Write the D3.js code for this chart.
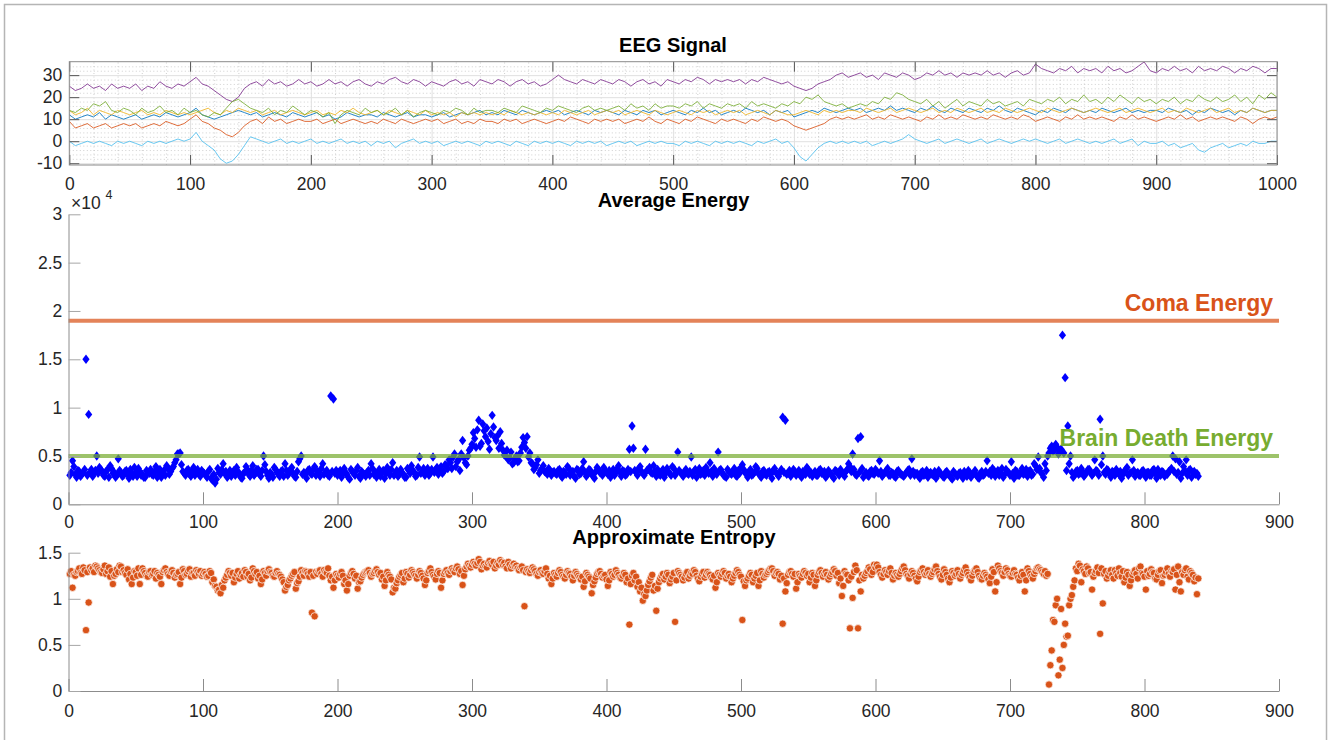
<!DOCTYPE html>
<html><head><meta charset="utf-8">
<script src="https://cdn.jsdelivr.net/npm/d3@7"></script>
<style>
body{margin:0;background:#fff;}
svg{display:block;font-family:"Liberation Sans",Arial,Helvetica,sans-serif;}
</style></head><body>
<svg id="c" width="1331" height="740"></svg>
<script>
// ---------------- DATA ----------------
const eegStep = 5; // sample spacing of the EEG traces below (x = i*5)
const eegBlue = [
12,10,11,12,11,13,10,12,11,10, 11,12,10,11,12,11,13,12,11,12,
13,15,12,11,10,11,12,13,14,13, 12,13,11,12,13,12,11,13,12,11,
12,13,11,12,10,11,13,12,11,12, 12,11,13,12,11,12,13,11,12,12,
11,12,13,11,12,13,12,13,14,12, 13,12,14,13,12,14,13,12,13,14,
13,14,12,13,14,13,12,14,13,14, 13,12,14,13,12,14,13,14,12,13,
14,13,12,14,13,15,13,14,12,13, 14,13,15,14,13,14,12,14,13,14,
11,12,13,14,13,15,14,13,14,15, 14,15,13,14,15,14,16,14,15,14,
13,15,14,16,14,13,15,14,13,15, 14,13,15,14,16,14,13,15,14,13,
12,14,13,15,14,13,15,14,13,14, 13,15,14,13,14,15,13,14,13,14,
14,13,15,14,13,14,12,14,13,15, 14,13,14,12,14,13,15,14,13,14, 14];
const eegOrange = [
9,6,7,8,6,7,8,6,7,8, 7,8,6,7,8,7,9,8,7,8,
10,12,9,8,6,5,3,2,4,7, 9,10,8,11,9,10,8,9,10,9,
9,10,8,9,10,8,9,10,9,8, 9,8,10,9,8,10,9,8,9,10,
9,10,8,9,10,8,9,8,10,9, 9,8,10,9,10,8,9,10,9,8,
9,10,9,11,10,9,8,10,9,10, 9,10,8,9,10,9,11,9,8,10,
9,8,10,9,11,10,9,8,10,9, 10,9,8,10,9,11,10,9,10,9,
7,6,5,6,7,8,10,11,10,11, 10,11,12,10,11,10,12,11,10,11,
10,9,11,10,12,10,11,10,12,11, 10,11,10,12,11,10,11,10,12,11,
9,10,11,10,9,11,10,12,10,11, 10,11,10,9,11,10,12,10,11,10,
9,10,11,10,12,10,11,9,10,11, 10,11,10,9,11,10,8,10,11,10, 11];
const eegYellow = [
14,12,13,15,12,14,13,12,14,13, 12,13,14,12,13,12,14,13,12,13,
12,13,14,15,13,12,14,13,15,14, 13,14,12,13,14,12,13,14,13,12,
13,14,12,13,12,14,13,15,13,12, 13,14,12,14,13,12,14,13,12,14,
12,13,12,13,11,13,12,13,12,13, 12,13,12,14,13,12,13,12,13,12,
13,12,14,13,12,13,14,12,13,14, 13,14,12,13,14,13,12,14,13,12,
13,14,13,12,14,13,14,12,13,14, 13,14,12,13,14,13,12,14,13,12,
12,13,14,13,12,14,13,14,13,14, 14,13,15,14,13,14,15,13,14,15,
14,13,14,15,13,14,13,15,14,13, 14,15,13,14,13,15,14,13,14,15,
14,13,15,14,13,14,15,14,13,14, 15,14,13,14,15,13,14,15,14,13,
14,15,13,14,13,15,14,13,14,15, 13,14,15,13,14,13,15,14,13,14, 14];
const eegPurple = [
25,23,24,26,24,25,23,26,24,25, 24,26,23,25,24,27,25,24,26,25,
27,29,26,25,23,21,19,18,20,24, 26,27,25,28,26,27,25,26,28,26,
27,25,26,28,26,27,25,27,28,26, 25,27,26,28,29,27,26,28,27,25,
27,26,25,27,28,26,27,25,28,27, 26,28,27,25,27,28,26,27,25,26,
28,30,28,27,26,28,27,26,28,27, 26,28,27,25,27,28,26,27,25,28,
27,26,28,27,29,28,26,28,27,28, 27,28,26,28,27,29,28,27,26,27,
25,24,23,24,26,27,28,30,31,29, 30,31,29,30,28,31,30,29,31,30,
28,29,31,30,32,30,31,29,31,30, 31,30,32,30,31,29,31,32,30,31,
35,33,32,31,33,32,34,31,33,32, 33,31,34,32,33,31,32,34,36,32,
31,33,32,34,32,33,31,34,32,33, 32,34,33,31,33,32,34,33,31,33, 33];
const eegGreen = [
14,13,15,14,17,16,18,14,13,15, 14,12,15,13,14,16,13,14,12,15,
13,14,12,11,13,12,15,18,19,17, 15,14,13,15,12,14,13,16,14,12,
14,13,11,13,8,12,14,13,12,15, 13,14,12,13,15,12,14,11,13,14,
13,12,14,13,15,14,12,15,13,14, 14,13,15,14,13,16,15,14,13,15,
14,16,15,14,13,15,16,14,15,14, 15,16,14,17,15,16,14,17,15,16,
16,15,17,16,18,15,17,16,15,17, 16,17,15,18,16,17,16,15,17,16,
18,17,20,19,21,18,17,16,17,15, 16,17,16,18,17,20,19,22,21,19,
18,17,19,16,18,15,17,19,16,18, 17,16,19,17,18,16,17,18,16,19,
18,17,19,18,20,17,19,18,21,18, 19,17,20,18,21,19,17,20,18,19,
17,19,18,20,17,19,18,21,19,18, 20,18,19,21,18,20,17,21,19,22, 20];
const eegCyan = [
0,-2,-1,0,-1,0,-1,-2,0,-1, 0,-1,-2,0,-1,0,-1,0,1,0,
1,4,0,-2,-4,-8,-10,-9,-6,-2, 2,1,0,-1,0,1,-1,0,-1,0,
1,-1,0,-1,0,1,-1,0,-1,0, -2,0,-1,0,-3,-1,0,1,-1,0,
-1,0,-2,-1,0,-1,0,-1,-2,0, -1,0,-1,-2,0,-1,-2,0,-1,0,
-1,0,-1,-2,0,-1,0,-1,0,-2, -1,0,-1,0,-2,-1,0,-1,0,-1,
-1,-2,0,-1,0,-1,-2,0,-1,0, -1,0,-1,-2,0,-1,0,1,-1,0,
-3,-7,-9,-6,-3,-1,0,-1,0,-1, 0,-1,0,-2,-1,0,-1,0,1,3,
1,0,-1,0,1,-1,0,1,0,-1, 0,1,-1,0,1,0,-1,0,1,0,
1,0,-1,0,1,-1,0,1,0,-1, 0,-1,0,1,-1,0,1,-2,0,-1,
-1,0,-2,-1,-3,-2,-1,-4,-5,-3, -2,-1,-3,-2,-1,-2,0,-1,-1,0, 0];
const eegColors = ["#0072BD","#D95319","#EDB120","#7E2F8E","#77AC30","#4DBEEE"];

// Average energy per window; energyOdd at x = 1,3,...,839, energyEven at x = 2,4,...,840
const energyOdd = [
3000,4500,3100,3500,2900,3300,15000,9300,3600,3200,
5000,3800,3400,2900,3600,4000,3200,2800,4700,3300,
3000,3500,2700,3200,3800,2900,3400,3100,2800,3300,
3600,3000,3900,3300,2800,3500,4000,3100,3700,4300,
5200,5300,3400,3000,3600,2900,3800,3300,3100,3500,
3200,2800,3600,2500,2200,3700,3100,4200,3400,3000,
2900,3500,3800,3100,2700,3300,3600,2900,4000,3200,
3600,2900,5000,3400,2700,3100,3800,3300,2900,3500,
4200,3000,3600,3200,2800,4400,5000,3300,2700,3600,
3100,3900,3400,2900,4200,3300,3000,11200,10900,3500,
3300,2800,3700,3100,2600,3400,3000,3800,2700,3200,
2900,3500,4200,3100,2800,3600,3300,2700,3800,3000,
4300,3200,2900,3600,3100,2800,3500,4000,3300,3000,
4900,3400,3000,3700,3200,4900,3600,3100,3900,3400,
4000,4600,3700,5200,4400,3500,6600,4300,5000,5800,
7400,5900,8700,6300,7600,7900,5700,9200,6900,7100,
7500,5600,5000,4600,5400,4300,5000,4500,5900,6400,
7000,5300,4200,3800,4600,3500,4000,3300,3700,3000,
3400,3100,3600,2800,3300,3900,3000,3400,2700,3500,
3200,4400,2900,3600,3100,2700,3800,3300,3000,3500,
3100,2800,3600,3300,4000,2900,3400,3100,5700,8100,
3500,3000,3900,3200,5700,3600,3300,4000,2900,3100,
3400,2800,3700,3200,3900,3000,5400,3300,2900,3600,
3100,4900,3400,2800,3700,3200,3000,3500,4300,2900,
3300,5400,3600,3000,2800,3400,3100,3700,2900,3200,
4100,3300,2800,3600,3100,3900,3200,2800,3500,3000,
3400,2700,3700,3100,3300,9000,8700,3200,2900,3600,
3000,3500,2800,3300,3800,3100,2900,3400,3000,3600,
3200,2800,3500,3100,2700,3400,3000,3300,2900,3600,
3900,5200,3100,6800,7000,2800,3300,2900,3500,3100,
3400,4500,2900,3300,3700,3000,3200,2800,3500,3100,
2900,3300,3600,4700,3000,3200,2700,3400,3100,2800,
3300,3000,2700,3500,3100,2800,3400,3000,2600,3200,
2900,3300,2700,3100,3500,2800,3200,3000,2700,3400,
3100,4500,3400,3700,2900,3500,3200,2800,3600,3300,
4400,2700,3400,3000,3700,3200,2900,3500,3100,4000,
4900,3300,2800,3500,5300,6000,5600,5900,5400,17500,
13100,8100,5000,2800,3400,3100,3700,2900,3300,3600,
3000,4600,3400,8800,5000,3100,3500,2800,3300,3600,
3100,2700,3400,3800,3200,4600,2900,3300,3000,3500,
2800,3300,3000,3600,2700,3200,3400,2900,3100,3500,
5000,4700,3300,2700,3900,4600,3500,2800,3400,3200];
const energyEven = [
3300,3900,2800,3400,3100,3600,3000,3300,2900,3500,
3200,3600,3000,3400,2800,3700,3300,3000,3500,2900,
3400,3100,3600,2900,3300,3700,3000,2800,3500,3200,
3100,3400,2800,3600,3200,3000,3700,3400,3900,4600,
5200,4100,3200,3500,3100,3400,3000,3600,2900,3300,
3000,3400,2700,3100,2600,3300,3600,3200,2800,3500,
3300,3000,3400,2800,3200,3900,3100,3500,3000,3600,
3100,3500,4100,3000,3300,2800,3600,3100,3400,2900,
3500,3200,3800,2900,3400,4700,3100,3000,3500,3200,
3600,3000,3300,3700,3100,3500,2900,3400,3200,3000,
3500,3100,3300,2800,3600,3200,3500,2900,3400,3100,
3300,3000,3700,3300,3100,2900,3500,3200,3400,3600,
3000,3500,3100,3300,2800,3700,3200,3500,2900,3800,
3200,3700,3400,3000,3600,3300,3800,3500,3200,4100,
3700,4300,4900,3900,4600,5200,4800,4100,5600,6200,
6800,7700,6000,8300,7000,6500,7300,8000,6600,5800,
6300,5100,5600,4800,4200,4700,4400,5300,6900,5800,
4900,4300,3600,4100,3200,3700,3400,3100,3500,3300,
3200,3500,3000,3400,3100,3700,3300,2900,3600,3100,
3700,3300,3100,3500,2900,3400,3600,3200,3800,3300,
3500,3200,3000,3700,3300,3500,3000,3600,3400,5800,
3300,3700,3400,3000,3500,3800,3200,3400,3600,3000,
3600,3200,3400,3000,3700,3300,3500,3100,3400,3200,
3400,3000,3600,3300,3100,3500,3800,3200,3400,3700,
3100,3500,3300,2900,3600,3200,3400,3000,3500,3800,
3600,3100,3400,3000,3300,3700,3000,3400,3100,3300,
3100,3500,3300,2900,3600,3300,3100,3500,3200,3400,
3300,3000,3400,3100,3600,3300,3200,3000,3500,3200,
3400,3000,3300,2900,3500,3200,3600,3100,3400,4200,
3400,3600,3000,3300,3700,3100,3000,3400,3200,3600,
3200,3400,3100,3500,3000,3300,2900,3400,3200,3000,
3100,3500,3000,3400,3200,2900,3300,3000,3500,3200,
3100,3400,3000,3200,2900,3300,3100,2800,3400,3000,
3200,3000,3400,2900,3300,3100,3500,2800,3200,3000,
3400,3200,3000,3500,3300,3000,3700,3100,3400,3000,
3200,3500,3000,3300,3100,3600,3400,3000,4200,3600,
3700,3100,4200,5000,5800,5500,6200,5200,5700,5300,
3500,4200,3300,3000,3500,3200,3400,3100,3600,3300,
3200,3500,3000,4100,3300,3600,3100,3400,3000,3300,
3400,3100,3600,3000,3300,3500,3200,3000,3400,3100,
3300,3000,3500,3200,3600,3000,3300,3100,3400,3700,
3400,3100,4400,3200,3500,3000,3600,3300,3100,2900];
const comaEnergy = 19000;
const brainDeathEnergy = 5000;

// Approximate entropy; entropyOdd at x = 1,3,...,839, entropyEven at x = 2,4,...,840
const entropyOdd = [
1.27,1.12,1.25,1.30,1.28,1.34,0.66,0.96,1.31,1.29,
1.35,1.31,1.28,1.36,1.30,1.24,1.16,1.27,1.29,1.35,
1.31,1.26,1.21,1.16,1.30,1.25,1.16,1.33,1.28,1.24,
1.30,1.27,1.22,1.26,1.16,1.31,1.29,1.25,1.31,1.23,
1.27,1.16,1.32,1.26,1.30,1.24,1.28,1.31,1.27,1.25,
1.29,1.24,1.30,1.18,1.14,1.09,1.06,1.12,1.23,1.30,
1.25,1.18,1.27,1.22,1.28,1.31,1.24,1.20,1.33,1.27,
1.22,1.16,1.30,1.25,1.32,1.28,1.24,1.30,1.26,1.21,
1.09,1.15,1.22,1.27,1.11,1.19,1.31,1.25,1.29,1.24,
0.85,0.81,1.27,1.31,1.24,1.29,1.33,1.20,1.12,1.27,
1.23,1.29,1.16,1.09,1.25,1.30,1.22,1.11,1.19,1.26,
1.29,1.31,1.24,1.28,1.32,1.26,1.21,1.14,1.29,1.24,
1.07,1.11,1.20,1.26,1.18,1.29,1.23,1.31,1.27,1.22,
1.30,1.25,1.15,1.28,1.33,1.26,1.21,1.30,1.12,1.27,
1.31,1.26,1.33,1.29,1.35,1.27,1.15,1.32,1.38,1.34,
1.40,1.36,1.43,1.32,1.38,1.34,1.41,1.37,1.33,1.39,
1.42,1.37,1.35,1.40,1.33,1.38,1.36,1.31,1.35,0.92,
1.32,1.28,1.34,1.30,1.25,1.31,1.27,1.33,1.22,1.16,
1.28,1.24,1.31,1.26,1.22,1.30,1.27,1.20,1.29,1.25,
1.21,1.13,1.28,1.24,1.06,1.19,1.27,1.30,1.23,1.26,
1.14,1.29,1.24,1.31,1.26,1.22,1.28,1.18,0.72,1.25,
1.20,1.13,1.08,0.98,1.03,1.15,1.23,1.09,0.87,1.18,
1.25,1.21,1.28,1.17,1.24,0.75,1.30,1.26,1.20,1.27,
1.22,1.28,1.31,1.25,1.19,1.27,1.23,1.29,1.26,1.21,
1.12,1.28,1.24,1.30,1.22,1.27,1.18,1.25,1.31,1.26,
0.77,1.14,1.22,1.28,1.18,1.25,1.14,1.30,1.23,1.27,
1.31,1.33,1.25,1.29,1.21,0.73,1.08,1.26,1.30,1.24,
1.11,1.27,1.23,1.30,1.25,1.18,1.28,1.14,1.26,1.31,
1.24,1.29,1.21,1.27,1.32,1.25,1.17,1.03,1.30,1.26,
0.68,1.01,1.36,0.68,1.08,1.22,1.28,1.34,1.26,1.37,
1.37,1.29,1.23,1.31,1.26,1.33,1.21,1.28,1.24,1.30,
1.35,1.27,1.22,1.30,1.25,1.19,1.29,1.33,1.26,1.31,
1.24,1.29,1.35,1.27,1.21,1.32,1.26,1.18,1.30,1.25,
1.31,1.22,1.28,1.34,1.26,1.20,1.29,1.33,1.25,1.21,
1.28,1.24,1.17,1.32,1.08,1.36,1.30,1.25,1.33,1.27,
1.24,1.31,1.26,1.20,1.29,1.08,1.33,1.27,1.22,1.30,
1.34,1.31,1.27,1.25,0.07,0.44,0.75,1.00,0.34,0.25,
0.73,0.60,1.00,1.13,1.33,1.38,1.18,1.30,1.35,1.28,
1.10,1.28,1.34,0.62,0.95,1.30,1.25,1.31,1.22,1.28,
1.33,1.24,1.18,1.29,1.14,1.26,1.31,1.22,1.35,1.27,
1.10,1.25,1.32,1.28,1.21,1.30,1.17,1.26,1.33,1.24,
1.29,1.10,1.35,1.08,1.26,1.33,1.21,1.28,1.19,1.05];
const entropyEven = [
1.30,1.26,1.29,1.33,1.27,1.31,1.29,1.34,1.33,1.36,
1.33,1.29,1.32,1.27,1.34,1.30,1.25,1.32,1.36,1.29,
1.28,1.32,1.27,1.23,1.29,1.33,1.26,1.30,1.25,1.29,
1.26,1.30,1.28,1.24,1.29,1.33,1.27,1.30,1.28,1.26,
1.29,1.23,1.30,1.27,1.32,1.28,1.25,1.29,1.30,1.27,
1.27,1.25,1.28,1.21,1.13,1.10,1.15,1.20,1.26,1.28,
1.28,1.23,1.30,1.26,1.24,1.29,1.27,1.23,1.30,1.29,
1.25,1.21,1.28,1.30,1.29,1.25,1.28,1.27,1.24,1.18,
1.13,1.20,1.25,1.29,1.17,1.24,1.28,1.30,1.27,1.29,
1.25,1.29,1.30,1.27,1.31,1.28,1.25,1.24,1.20,1.25,
1.27,1.25,1.20,1.16,1.28,1.27,1.25,1.18,1.23,1.28,
1.30,1.28,1.27,1.30,1.29,1.28,1.24,1.20,1.26,1.21,
1.12,1.17,1.24,1.28,1.22,1.27,1.26,1.29,1.25,1.26,
1.28,1.22,1.20,1.30,1.29,1.24,1.27,1.28,1.20,1.29,
1.28,1.30,1.31,1.33,1.32,1.30,1.25,1.35,1.36,1.37,
1.38,1.39,1.40,1.36,1.35,1.39,1.38,1.40,1.36,1.37,
1.40,1.39,1.33,1.37,1.36,1.35,1.33,1.34,1.31,1.29,
1.30,1.31,1.32,1.27,1.29,1.28,1.30,1.27,1.25,1.22,
1.26,1.28,1.29,1.24,1.26,1.28,1.24,1.25,1.27,1.23,
1.24,1.19,1.26,1.22,1.15,1.23,1.29,1.27,1.25,1.21,
1.20,1.27,1.26,1.28,1.23,1.25,1.26,1.22,1.16,1.28,
1.24,1.18,1.12,1.05,1.09,1.19,1.26,1.14,1.11,1.22,
1.27,1.24,1.26,1.21,1.28,1.20,1.28,1.24,1.23,1.29,
1.25,1.27,1.29,1.22,1.24,1.29,1.26,1.27,1.23,1.25,
1.18,1.26,1.27,1.28,1.25,1.24,1.22,1.28,1.29,1.24,
1.19,1.20,1.25,1.26,1.22,1.28,1.20,1.27,1.26,1.29,
1.33,1.30,1.28,1.27,1.25,1.22,1.17,1.29,1.27,1.27,
1.18,1.25,1.27,1.28,1.27,1.23,1.26,1.20,1.29,1.28,
1.27,1.26,1.24,1.29,1.30,1.28,1.22,1.14,1.27,1.20,
1.24,1.29,1.31,1.20,1.26,1.25,1.30,1.32,1.29,1.34,
1.34,1.26,1.27,1.29,1.30,1.28,1.25,1.26,1.27,1.33,
1.31,1.25,1.27,1.28,1.22,1.24,1.31,1.29,1.28,1.27,
1.27,1.32,1.30,1.24,1.26,1.29,1.22,1.23,1.28,1.27,
1.27,1.26,1.31,1.29,1.23,1.25,1.31,1.29,1.22,1.25,
1.26,1.21,1.24,1.29,1.18,1.33,1.28,1.29,1.31,1.25,
1.28,1.27,1.23,1.25,1.26,1.20,1.30,1.24,1.27,1.33,
1.32,1.29,1.30,1.27,0.28,0.77,0.93,0.17,0.89,0.50,
0.59,0.93,1.04,1.20,1.30,1.36,1.32,1.27,1.33,1.29,
1.24,1.30,1.28,1.33,1.27,1.22,1.29,1.26,1.31,1.25,
1.28,1.30,1.23,1.26,1.20,1.29,1.27,1.33,1.28,1.24,
1.30,1.27,1.29,1.22,1.26,1.31,1.25,1.29,1.27,1.30,
1.32,1.26,1.18,1.29,1.31,1.24,1.30,1.26,1.23,1.22];

const eegXTicks = [0,100,200,300,400,500,600,700,800,900,1000];
const eegYTicks = [-10,0,10,20,30];
const xTicks = [0,100,200,300,400,500,600,700,800,900];
const energyYTicks = [0,5000,10000,15000,20000,25000,30000];
const entropyYTicks = [0,0.5,1,1.5];

// ---------------- DRAW ----------------
const svg = d3.select("#c");
svg.append("rect").attr("width",1331).attr("height",740).attr("fill","#fff");
svg.append("rect").attr("x",4.5).attr("y",4.5).attr("width",1322).attr("height",800)
  .attr("fill","none").attr("stroke","#b5b5b5").attr("stroke-width",1.5);

const FONT = 17.5, LBL = "#262626";
const L = 69.3;
const fmt = d => String(d);

function styleAxis(g, tickCol, domainCol, showDomain){
  g.selectAll("text").attr("font-size",FONT).attr("fill",LBL).attr("font-family","'Liberation Sans',Arial,sans-serif");
  g.selectAll(".tick line").attr("stroke",tickCol);
  if(showDomain) g.select(".domain").attr("stroke",domainCol); else g.select(".domain").remove();
}

// ===== Panel 1: EEG Signal =====
const T1 = 61.7, B1 = 165, R1 = 1277;
const x1 = d3.scaleLinear().domain([0,1000]).range([L,R1]);
const y1 = d3.scaleLinear().domain([-10.8,36.1]).range([B1,T1]);
const p1 = svg.append("g");
// minor grid
p1.append("g").attr("transform",`translate(0,${B1})`)
  .call(d3.axisBottom(x1).tickValues(d3.range(0,1001,20).filter(v=>v%100)).tickSize(-(B1-T1)).tickFormat(""))
  .call(g=>{g.select(".domain").remove(); g.selectAll("line").attr("stroke","#c4c4c4").attr("stroke-dasharray","1,2.5").attr("stroke-width",0.8);});
p1.append("g").attr("transform",`translate(${L},0)`)
  .call(d3.axisLeft(y1).tickValues(d3.range(-10,36,2).filter(v=>v%10)).tickSize(-(R1-L)).tickFormat(""))
  .call(g=>{g.select(".domain").remove(); g.selectAll("line").attr("stroke","#c4c4c4").attr("stroke-dasharray","1,2.5").attr("stroke-width",0.8);});
// major grid
p1.append("g").attr("transform",`translate(0,${B1})`)
  .call(d3.axisBottom(x1).tickValues(eegXTicks).tickSize(-(B1-T1)).tickFormat(""))
  .call(g=>{g.select(".domain").remove(); g.selectAll("line").attr("stroke","#e0e0e0");});
p1.append("g").attr("transform",`translate(${L},0)`)
  .call(d3.axisLeft(y1).tickValues(eegYTicks).tickSize(-(R1-L)).tickFormat(""))
  .call(g=>{g.select(".domain").remove(); g.selectAll("line").attr("stroke","#e0e0e0");});

svg.append("clipPath").attr("id","clip1").append("rect")
  .attr("x",L).attr("y",T1).attr("width",R1-L).attr("height",B1-T1);
const eegSeries = [eegBlue,eegOrange,eegYellow,eegPurple,eegGreen,eegCyan];
const line1 = d3.line().x((d,i)=>x1(i*eegStep)).y(d=>y1(d));
p1.append("g").attr("clip-path","url(#clip1)").selectAll("path").data(eegSeries).join("path")
  .attr("d",line1).attr("fill","none").attr("stroke",(d,i)=>eegColors[i])
  .attr("stroke-width",1).attr("stroke-opacity",0.85).attr("stroke-linejoin","round");

// axes with ticks on all sides
p1.append("g").attr("transform",`translate(0,${B1})`)
  .call(d3.axisBottom(x1).tickValues(eegXTicks).tickSizeInner(-10).tickSizeOuter(0).tickPadding(12.6).tickFormat(fmt))
  .call(g=>styleAxis(g,"#555","#888",false));
p1.append("g").attr("transform",`translate(0,${T1})`)
  .call(d3.axisTop(x1).tickValues(eegXTicks).tickSizeInner(-10).tickSizeOuter(0).tickFormat(""))
  .call(g=>styleAxis(g,"#555","#888",false));
p1.append("g").attr("transform",`translate(${L},0)`)
  .call(d3.axisLeft(y1).tickValues(eegYTicks).tickSizeInner(-10).tickSizeOuter(0).tickPadding(7).tickFormat(fmt))
  .call(g=>styleAxis(g,"#555","#888",false));
p1.append("g").attr("transform",`translate(${R1},0)`)
  .call(d3.axisRight(y1).tickValues(eegYTicks).tickSizeInner(-10).tickSizeOuter(0).tickFormat(""))
  .call(g=>styleAxis(g,"#555","#888",false));
p1.append("rect").attr("x",L).attr("y",T1).attr("width",R1-L).attr("height",B1-T1)
  .attr("fill","none").attr("stroke","#8a8a8a").attr("stroke-width",1);
svg.append("text").attr("x",673).attr("y",51.5).attr("text-anchor","middle")
  .attr("font-size",20).attr("font-weight","bold").attr("fill","#000").text("EEG Signal");

// ===== Panel 2: Average Energy =====
const T2 = 214.3, B2 = 504.3, R2 = 1279;
const x2 = d3.scaleLinear().domain([0,900]).range([68.5,R2]);
const y2 = d3.scaleLinear().domain([0,30000]).range([B2,T2]);
const p2 = svg.append("g");
const energyPts = energyOdd.map((v,i)=>({x:2*i+1,y:v}))
  .concat(energyEven.map((v,i)=>({x:2*i+2,y:v})))
  .sort((a,b)=>a.x-b.x);
const diamondPath = "M0,-4.7L3.6,0L0,4.7L-3.6,0Z";
p2.append("g").selectAll("path").data(energyPts).join("path")
  .attr("transform",d=>`translate(${x2(d.x)},${y2(d.y)})`)
  .attr("d",diamondPath).attr("fill","#0000ff");
// threshold lines
p2.append("line").attr("x1",x2(0)).attr("x2",x2(900)).attr("y1",y2(comaEnergy)).attr("y2",y2(comaEnergy))
  .attr("stroke","#D95319").attr("stroke-opacity",0.72).attr("stroke-width",4);
p2.append("line").attr("x1",x2(0)).attr("x2",x2(900)).attr("y1",y2(brainDeathEnergy)).attr("y2",y2(brainDeathEnergy))
  .attr("stroke","#77AC30").attr("stroke-opacity",0.72).attr("stroke-width",4);
p2.append("g").attr("transform",`translate(0,${B2})`)
  .call(d3.axisBottom(x2).tickValues(xTicks).tickSizeInner(-12).tickSizeOuter(0).tickPadding(11.6).tickFormat(fmt))
  .call(g=>styleAxis(g,"#8c8c8c","#8c8c8c",true));
p2.append("g").attr("transform",`translate(68.5,0)`)
  .call(d3.axisLeft(y2).tickValues(energyYTicks).tickSizeInner(-12).tickSizeOuter(0).tickPadding(6.2).tickFormat(d=>String(d/1e4)))
  .call(g=>styleAxis(g,"#a6a6a6","#8c8c8c",true));
svg.append("text").attr("x",71).attr("y",208.5).attr("font-size",17.5).attr("fill",LBL).text("\u00d710");
svg.append("text").attr("x",105.5).attr("y",199).attr("font-size",12.5).attr("fill",LBL).text("4");
svg.append("text").attr("x",673.5).attr("y",206.5).attr("text-anchor","middle")
  .attr("font-size",20).attr("font-weight","bold").attr("fill","#000").text("Average Energy");
svg.append("text").attr("x",1273).attr("y",y2(comaEnergy)-9.5).attr("text-anchor","end")
  .attr("font-size",23).attr("font-weight","bold").attr("fill","#D95319").text("Coma Energy");
svg.append("text").attr("x",1273).attr("y",y2(brainDeathEnergy)-9.5).attr("text-anchor","end")
  .attr("font-size",23).attr("font-weight","bold").attr("fill","#77AC30").text("Brain Death Energy");

// ===== Panel 3: Approximate Entropy =====
const T3 = 552.7, B3 = 691;
const y3 = d3.scaleLinear().domain([0,1.5]).range([B3,T3]);
const p3 = svg.append("g");
const entPts = entropyOdd.map((v,i)=>({x:2*i+1,y:v}))
  .concat(entropyEven.map((v,i)=>({x:2*i+2,y:v})))
  .sort((a,b)=>a.x-b.x);
p3.append("g").selectAll("circle").data(entPts).join("circle")
  .attr("cx",d=>x2(d.x)).attr("cy",d=>y3(d.y)).attr("r",3.7)
  .attr("fill","#D95319").attr("stroke","#fff").attr("stroke-width",0.7);
p3.append("g").attr("transform",`translate(0,${B3})`)
  .call(d3.axisBottom(x2).tickValues(xTicks).tickSizeInner(-12).tickSizeOuter(0).tickPadding(13.3).tickFormat(fmt))
  .call(g=>styleAxis(g,"#8c8c8c","#8c8c8c",true));
p3.append("g").attr("transform",`translate(68.5,0)`)
  .call(d3.axisLeft(y3).tickValues(entropyYTicks).tickSizeInner(-12).tickSizeOuter(0).tickPadding(6.2).tickFormat(fmt))
  .call(g=>styleAxis(g,"#a6a6a6","#8c8c8c",true));
svg.append("text").attr("x",674).attr("y",544).attr("text-anchor","middle")
  .attr("font-size",20).attr("font-weight","bold").attr("fill","#000").text("Approximate Entropy");
</script>
</body></html>
